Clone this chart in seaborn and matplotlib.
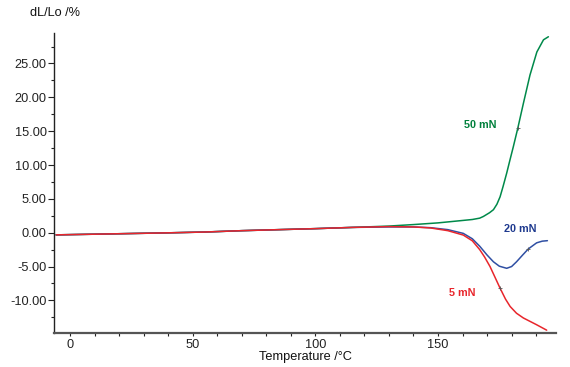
import matplotlib
matplotlib.use("Agg")
import matplotlib.pyplot as plt
from matplotlib.ticker import MultipleLocator, FormatStrFormatter
import seaborn as sns
import pandas as pd

# ---- data ----
base_t = [-5.7, 10, 25, 40, 55, 70, 85, 100, 115]
base_v = [-0.32, -0.22, -0.12, -0.02, 0.1, 0.3, 0.45, 0.6, 0.78]

green_t = base_t + [130, 140, 150, 159, 164, 167, 168.5, 171, 172.6, 174, 175.3, 176.5,
                    178, 179.3, 180.7, 182.5, 184.8, 187.5, 190.3, 193, 195]
green_v = base_v + [0.98, 1.2, 1.45, 1.77, 1.95, 2.15, 2.4, 2.95, 3.4, 4.2, 5.3, 6.8,
                    8.8, 10.7, 12.7, 15.4, 19.1, 23.3, 26.7, 28.5, 28.95]

blue_t = base_t + [130, 140, 147, 154, 160.3, 164, 167, 170, 172.6, 175, 178, 180,
                   182, 184.5, 186.8, 190.2, 192.5, 194.6]
blue_v = base_v + [0.85, 0.85, 0.74, 0.45, -0.1, -0.9, -2.0, -3.3, -4.3, -4.95, -5.26,
                   -5.0, -4.3, -3.3, -2.4, -1.5, -1.25, -1.18]

red_t = base_t + [130, 140, 147, 154, 160.3, 164, 167, 169, 171.2, 173, 175.3, 177.5,
                  179.4, 182, 184.8, 187.5, 190.2, 194.3]
red_v = base_v + [0.9, 0.85, 0.7, 0.3, -0.35, -1.2, -2.5, -3.6, -5.0, -6.4, -8.2, -9.8,
                  -10.9, -11.9, -12.6, -13.1, -13.6, -14.4]

series_names = ["50 mN", "20 mN", "5 mN"]
marker_t = [182.5, 186.8, 175.3]
marker_v = [15.4, -2.46, -8.2]
label_t = [167.4, 183.5, 159.7]
label_v = [15.9, 0.5, -8.9]

line_colors = ["#00894a", "#2f4fa3", "#e8262c"]
text_colors = ["#00803c", "#1f3a8f", "#e8262c"]

frames = []
for name, t, v in zip(series_names, [green_t, blue_t, red_t], [green_v, blue_v, red_v]):
    frames.append(pd.DataFrame({"T": t, "dL": v, "load": name}))
df = pd.concat(frames, ignore_index=True)

sns.set_style("ticks")
plt.rcParams["font.family"] = ["Liberation Sans", "DejaVu Sans"]

fig = plt.figure(figsize=(5.7, 3.67), dpi=100)
ax = fig.add_axes([0.095, 0.093, 0.88, 0.817])

sns.lineplot(data=df, x="T", y="dL", hue="load", palette=dict(zip(series_names, line_colors)),
             sort=False, estimator=None, linewidth=1.1, legend=False, ax=ax)

ax.scatter(marker_t, marker_v, marker="+", s=12, color="#555555", linewidths=0.6, zorder=5)

for name, x, y, c in zip(series_names, label_t, label_v, text_colors):
    ax.text(x, y, name, color=c, fontsize=7.8, fontweight="bold", ha="center", va="center")

ax.set_xlim(-6.5, 198)
ax.set_ylim(-14.8, 29.5)
ax.xaxis.set_major_locator(MultipleLocator(50))
ax.xaxis.set_minor_locator(MultipleLocator(10))
ax.yaxis.set_major_locator(MultipleLocator(5))
ax.yaxis.set_minor_locator(MultipleLocator(2.5))
ax.yaxis.set_major_formatter(FormatStrFormatter("%.2f"))
ax.tick_params(axis="both", which="major", labelsize=9.2, length=4, width=0.8,
               colors="#222222", pad=1.5)
ax.tick_params(axis="both", which="minor", length=2.5, width=0.8, colors="#222222")
ax.tick_params(axis="x", which="both", length=2.5, pad=2)

for s in ["top", "right"]:
    ax.spines[s].set_visible(False)
ax.spines["left"].set_color("#222222")
ax.spines["bottom"].set_color("#555555")
ax.spines["left"].set_linewidth(1.0)
ax.spines["bottom"].set_linewidth(1.6)

ax.set_xlabel("Temperature /°C", fontsize=9.2, labelpad=0, color="#111111")
ax.set_ylabel("")
fig.text(0.097, 0.965, "dL/Lo /%", fontsize=9.2, ha="center", va="center", color="#111111")

fig.savefig("out.png", dpi=100)
